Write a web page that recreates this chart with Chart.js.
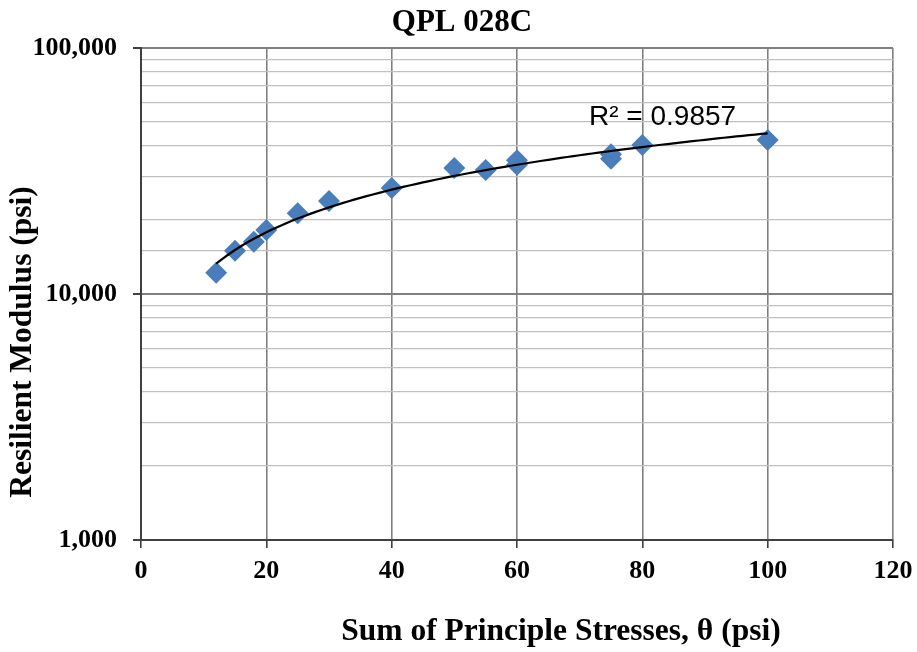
<!DOCTYPE html>
<html>
<head>
<meta charset="utf-8">
<script src="https://cdn.jsdelivr.net/npm/chart.js@4.4.1/dist/chart.umd.min.js"></script>
<style>
  html, body { margin: 0; padding: 0; background: #fff; }
  #chart { display: block; }
</style>
</head>
<body>
<canvas id="chart" width="917" height="652"></canvas>
<script>
const chartTitle = 'QPL 028C';
const xTitle = 'Sum of Principle Stresses, \u03b8 (psi)';
const yTitle = 'Resilient Modulus (psi)';
const r2Label = 'R\u00b2 = 0.9857';

// bulk stress (psi) and resilient modulus (psi)
const theta = [12, 15, 18, 20, 25, 30, 40, 50, 55, 60, 60, 75, 75, 80, 100];
const modulus = [12200, 15000, 16300, 18200, 21300, 23900, 27000, 32500, 31900, 35000, 33500, 35500, 37000, 40300, 42300];

const xTicks = [0, 20, 40, 60, 80, 100, 120];
const yMajor = [1000, 10000, 100000];

// power trendline, least squares in log-log like Excel does
function powerFit(xs, ys) {
  const lx = xs.map(Math.log), ly = ys.map(Math.log);
  const n = xs.length;
  const mx = lx.reduce((a, b) => a + b, 0) / n;
  const my = ly.reduce((a, b) => a + b, 0) / n;
  let sxy = 0, sxx = 0;
  for (let i = 0; i < n; i++) {
    sxy += (lx[i] - mx) * (ly[i] - my);
    sxx += (lx[i] - mx) ** 2;
  }
  const b = sxy / sxx;
  return { a: Math.exp(my - b * mx), b };
}
const fit = powerFit(theta, modulus);
const xMin = Math.min(...theta), xMax = Math.max(...theta);
const trend = [];
for (let x = xMin; x <= xMax; x += 1) trend.push({ x, y: fit.a * Math.pow(x, fit.b) });

const isMajor = v => yMajor.includes(v);

const textPlugin = {
  id: 'texts',
  afterDraw(chart) {
    const c = chart.ctx;
    c.save();
    c.fillStyle = '#000';
    c.textAlign = 'center';
    c.textBaseline = 'middle';
    c.font = 'bold 31px "Liberation Serif"';
    c.fillText(chartTitle, 462, 23);
    c.font = 'bold 31.5px "Liberation Serif"';
    c.fillText(xTitle, 561, 632);
    c.translate(23, 342);
    c.rotate(-Math.PI / 2);
    c.fillText(yTitle, 0, 0);
    c.restore();
    c.save();
    c.fillStyle = '#000';
    c.font = '28px "Liberation Sans"';
    c.textAlign = 'left';
    c.textBaseline = 'alphabetic';
    c.fillText(r2Label, 589, 125);
    c.restore();
  }
};

Chart.defaults.font.family = '"Liberation Serif", "Times New Roman", serif';
Chart.defaults.color = '#000';

new Chart(document.getElementById('chart'), {
  type: 'scatter',
  data: {
    datasets: [
      {
        type: 'line',
        data: trend,
        borderColor: '#000',
        borderWidth: 2.2,
        pointRadius: 0,
        fill: false,
        tension: 0,
        order: 0
      },
      {
        data: theta.map((x, i) => ({ x, y: modulus[i] })),
        pointStyle: 'rectRot',
        pointRadius: 11,
        pointBackgroundColor: '#4a7ebb',
        pointBorderColor: '#4a7ebb',
        pointBorderWidth: 0,
        order: 1
      }
    ]
  },
  options: {
    responsive: false,
    animation: false,
    devicePixelRatio: 1,
    layout: { padding: { left: 0, top: 48, right: 24, bottom: 0 } },
    plugins: { legend: { display: false }, tooltip: { enabled: false }, title: { display: false } },
    scales: {
      x: {
        type: 'linear',
        min: 0,
        max: 120,
        afterBuildTicks: s => { s.ticks = xTicks.map(v => ({ value: v })); },
        afterFit: s => { s.height = 112; s.paddingRight = 0; s.paddingLeft = 0; },
        ticks: { font: { size: 26, weight: 'bold' }, padding: 8, maxRotation: 0 },
        grid: { color: '#808080', lineWidth: 1.6, tickLength: 8, tickColor: '#404040' },
        border: { color: '#404040', width: 2 }
      },
      y: {
        type: 'logarithmic',
        min: 1000,
        max: 100000,
        afterFit: s => { s.width = 141; },
        ticks: {
          font: { size: 26, weight: 'bold' },
          padding: 16,
          autoSkip: false,
          callback: v => isMajor(v) ? v.toLocaleString('en-US') : ''
        },
        grid: {
          color: ctx => isMajor(ctx.tick.value) ? '#808080' : '#c0c0c0',
          lineWidth: ctx => isMajor(ctx.tick.value) ? 2 : 1.3,
          tickLength: 8,
          tickColor: ctx => isMajor(ctx.tick.value) ? '#404040' : 'rgba(0,0,0,0)'
        },
        border: { color: '#404040', width: 2 }
      }
    }
  },
  plugins: [textPlugin]
});
</script>
</body>
</html>
